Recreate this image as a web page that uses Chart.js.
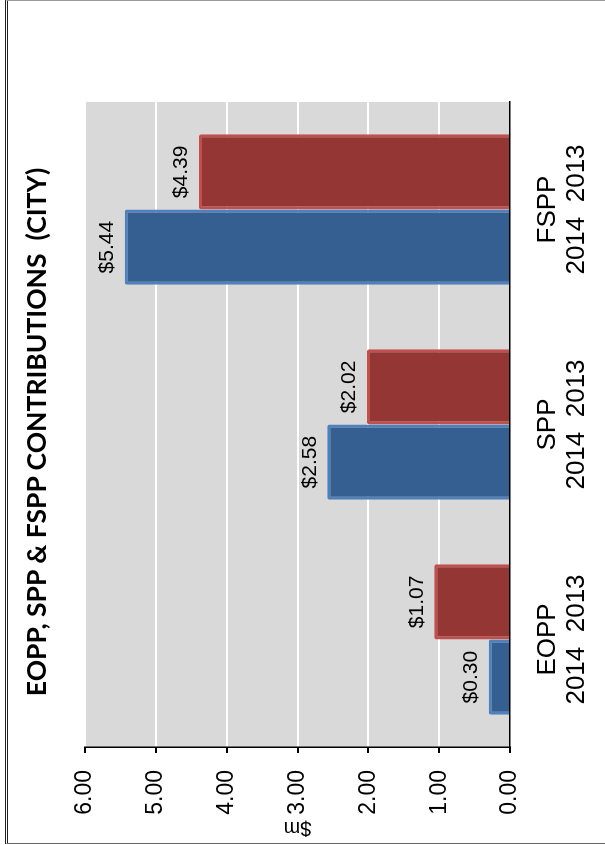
<!DOCTYPE html>
<html>
<head>
<meta charset="utf-8">
<script src="https://cdn.jsdelivr.net/npm/chart.js@4/dist/chart.umd.min.js"></script>
<style>
  html, body { margin: 0; padding: 0; background: #fff; }
  body { width: 605px; height: 845px; position: relative; overflow: hidden; }
  #frame {
    position: absolute; left: 5px; top: 0; width: 597px; height: 842px;
    border-left: 3px double #222; border-top: 1px solid #999;
    border-right: 1px solid #888; border-bottom: 1px solid #666;
  }
  /* the chart is laid out landscape and turned a quarter turn to fit the page */
  #rot {
    position: absolute; left: 0; top: 0; width: 845px; height: 605px;
    transform-origin: 0 0; transform: translateY(845px) rotate(-90deg);
  }
  #title {
    position: absolute; left: 0; width: 826px; top: 21px;
    text-align: center; font: bold 26.5px Lato, sans-serif; line-height: 30px; color: #000;
    white-space: pre;
  }
</style>
</head>
<body>
<div id="frame"></div>
<div id="rot">
  <canvas id="contribChart" width="845" height="605"></canvas>
  <div id="title">EOPP, SPP &amp; FSPP CONTRIBUTIONS  (CITY)</div>
</div>
<script>
const categories = ["EOPP", "SPP", "FSPP"];
const years = ["2014", "2013"];
const values2014 = [0.30, 2.58, 5.44];
const values2013 = [1.07, 2.02, 4.39];
const yTickMin = 0;
const yTickMax = 6;
const yTickStep = 1;

// two-line category labels: group name, then the years under their bars
const catLabels = categories.map(c => [c, years.join("  ")]);

const plotBg = {
  id: "plotBg",
  beforeDraw(chart) {
    const { ctx, chartArea: a } = chart;
    ctx.save();
    ctx.fillStyle = "#d9d9d9";
    ctx.fillRect(a.left, a.top, a.right - a.left, a.bottom - a.top);
    ctx.restore();
  }
};

const valueLabels = {
  id: "valueLabels",
  afterDatasetsDraw(chart) {
    const ctx = chart.ctx;
    ctx.save();
    ctx.font = "21px 'Liberation Sans', Arial, sans-serif";
    ctx.fillStyle = "#000";
    ctx.textAlign = "center";
    ctx.textBaseline = "bottom";
    chart.data.datasets.forEach((ds, i) => {
      chart.getDatasetMeta(i).data.forEach((bar, j) => {
        ctx.fillText("$" + ds.data[j].toFixed(2), bar.x, bar.y - 7);
      });
    });
    ctx.restore();
  }
};

new Chart(document.getElementById("contribChart"), {
  type: "bar",
  data: {
    labels: catLabels,
    datasets: [{
      label: years[0],
      data: values2014,
      backgroundColor: "#365f91",
      borderColor: "#4f81bd",
      borderWidth: 3,
      borderRadius: 2
    }, {
      label: years[1],
      data: values2013,
      backgroundColor: "#943634",
      borderColor: "#c0504d",
      borderWidth: 3,
      borderRadius: 2
    }]
  },
  options: {
    responsive: false,
    animation: false,
    events: [],
    categoryPercentage: 0.7,
    barPercentage: 1.0,
    layout: { padding: { top: 85, right: 102, left: 0, bottom: 0 } },
    plugins: {
      legend: { display: false },
      title: { display: false },
      tooltip: { enabled: false }
    },
    scales: {
      x: {
        grid: { display: false, drawTicks: false },
        border: { display: true, color: "#000", width: 1.5, z: 1 },
        ticks: {
          color: "#000",
          padding: 24,
          maxRotation: 0,
          font: { family: "'Liberation Sans', Arial, sans-serif", size: 26, lineHeight: 1.1 }
        },
        afterFit(s) { s.height = 95; }
      },
      y: {
        min: yTickMin,
        max: yTickMax,
        grid: {
          color: c => (c.tick && c.tick.value === 0 ? "rgba(0,0,0,0)" : "#ffffff"),
          lineWidth: 2,
          tickColor: "#000",
          tickLength: 6
        },
        border: { display: true, color: "#000", width: 1.5, z: 1 },
        ticks: {
          stepSize: yTickStep,
          color: "#000",
          padding: 17,
          font: { family: "'Liberation Sans', Arial, sans-serif", size: 23 },
          callback: v => Number(v).toFixed(2)
        },
        title: {
          display: true,
          text: "$m",
          color: "#000",
          padding: { top: 5, bottom: 0 },
          font: { family: "'Liberation Sans', Arial, sans-serif", size: 20, lineHeight: 1.2 }
        },
        afterFit(s) { s.width = 98; }
      }
    }
  },
  plugins: [plotBg, valueLabels]
});
</script>
</body>
</html>
